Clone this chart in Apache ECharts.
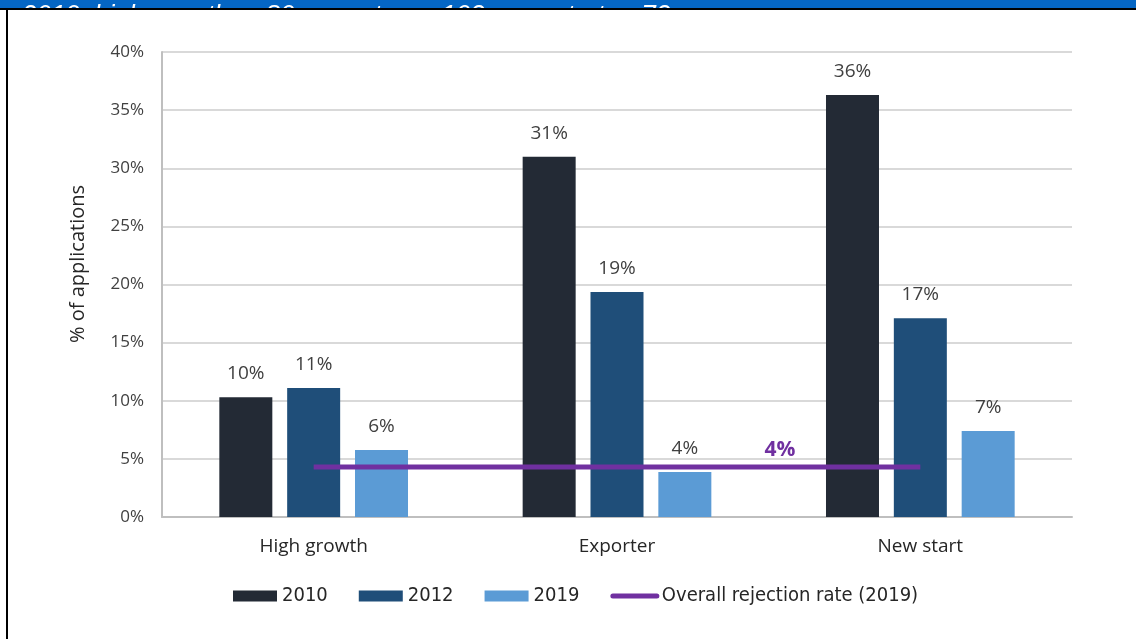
<!DOCTYPE html>
<html lang="en">

<head>
    <meta charset="UTF-8">
    <title>Rejection rates</title>
    <style>
        * {
            margin: 0;
            padding: 0;
        }

        #chart {
            width: 1136px;
            height: 639px;
            background: #fff;
        }
    </style>
</head>

<body>
    <div id="chart"></div>

    <script src="https://cdn.jsdelivr.net/npm/echarts@6/dist/echarts.min.js"></script>
    <script>
        var categories = ['High growth', 'Exporter', 'New start'];
        var years = ['2010', '2012', '2019'];
        var values2010 = [10.3, 31.0, 36.3];
        var values2012 = [11.1, 19.35, 17.1];
        var values2019 = [5.76, 3.87, 7.4];
        var overallRate = [4.3, 4.3, 4.3];
        var yTicks = { min: 0, max: 40, interval: 5 };
        var colors = ['#232A35', '#1F4E79', '#5B9BD5'];
        var lineName = 'Overall rejection rate (2019)';

        var myChart = echarts.init(document.getElementById('chart'));

        function barSeries(name, data, color) {
            return {
                name: name,
                type: 'bar',
                data: data,
                barWidth: 53,
                barGap: '28%',
                itemStyle: { color: color },
                label: {
                    show: true,
                    position: 'top',
                    distance: 14,
                    color: '#404040',
                    fontFamily: 'Open Sans',
                    fontSize: 19,
                    formatter: function (p) {
                        return Math.round(p.value) + '%';
                    }
                }
            };
        }

        var option = {
            animation: false,
            grid: { left: 162, right: 64, top: 52, bottom: 122 },
            legend: {
                left: 228,
                top: 581,
                itemWidth: 44,
                itemHeight: 11,
                itemGap: 31,
                textStyle: {
                    fontFamily: '"Liberation Sans Narrow", "DejaVu Sans Condensed", "Liberation Sans"',
                    fontSize: 20,
                    color: '#262626'
                },
                data: [
                    { name: years[0], icon: 'rect' },
                    { name: years[1], icon: 'rect' },
                    { name: years[2], icon: 'rect' },
                    {
                        name: lineName,
                        itemStyle: { opacity: 0 },
                        lineStyle: { width: 5, cap: 'round' }
                    }
                ]
            },
            xAxis: {
                type: 'category',
                data: categories,
                axisTick: { show: false },
                axisLine: { lineStyle: { color: '#BFBFBF', width: 2 } },
                axisLabel: {
                    margin: 20,
                    color: '#262626',
                    fontFamily: 'Open Sans',
                    fontSize: 19
                }
            },
            yAxis: {
                type: 'value',
                min: yTicks.min,
                max: yTicks.max,
                interval: yTicks.interval,
                axisLine: { show: true, lineStyle: { color: '#BFBFBF', width: 2 } },
                axisTick: { show: false },
                splitLine: { lineStyle: { color: '#D9D9D9', width: 2 } },
                axisLabel: {
                    margin: 18,
                    color: '#404040',
                    fontFamily: 'Open Sans',
                    fontSize: 17,
                    formatter: '{value}%'
                }
            },
            graphic: [
                { type: 'rect', z: 0, shape: { x: 0, y: 0, width: 1136, height: 8 }, style: { fill: '#0566C4' } },
                {
                    type: 'text',
                    x: 22,
                    y: 3,
                    z: 1,
                    style: {
                        text: '2019: high growth n=80, exporter n=103, new start n=73.',
                        fill: '#fff',
                        font: 'italic 26px "Liberation Sans"',
                        textVerticalAlign: 'alphabetic'
                    }
                },
                { type: 'rect', z: 2, shape: { x: 0, y: 8, width: 1136, height: 2 }, style: { fill: '#000' } },
                { type: 'rect', z: 2, shape: { x: 8, y: 10, width: 1128, height: 20 }, style: { fill: '#fff' } },
                { type: 'rect', z: 2, shape: { x: 6, y: 8, width: 2, height: 631 }, style: { fill: '#000' } },
                {
                    type: 'text',
                    x: 78,
                    y: 264,
                    rotation: Math.PI / 2,
                    style: {
                        text: '% of applications',
                        fill: '#262626',
                        font: '20px "Open Sans"',
                        textAlign: 'center',
                        textVerticalAlign: 'middle'
                    }
                }
            ],
            series: [
                barSeries(years[0], values2010, colors[0]),
                barSeries(years[1], values2012, colors[1]),
                barSeries(years[2], values2019, colors[2]),
                {
                    name: lineName,
                    type: 'line',
                    data: overallRate,
                    symbol: 'circle',
                    symbolSize: 0,
                    z: 5,
                    color: '#7030A0',
                    lineStyle: { color: '#7030A0', width: 5 },
                    label: {
                        show: true,
                        position: 'top',
                        distance: 6,
                        offset: [163, 0],
                        color: '#7030A0',
                        fontWeight: 'bold',
                        fontFamily: 'Open Sans',
                        fontSize: 21,
                        formatter: function (p) {
                            return p.dataIndex === 1 ? Math.round(p.value) + '%' : '';
                        }
                    }
                }
            ]
        };

        myChart.setOption(option);
    </script>
</body>

</html>
